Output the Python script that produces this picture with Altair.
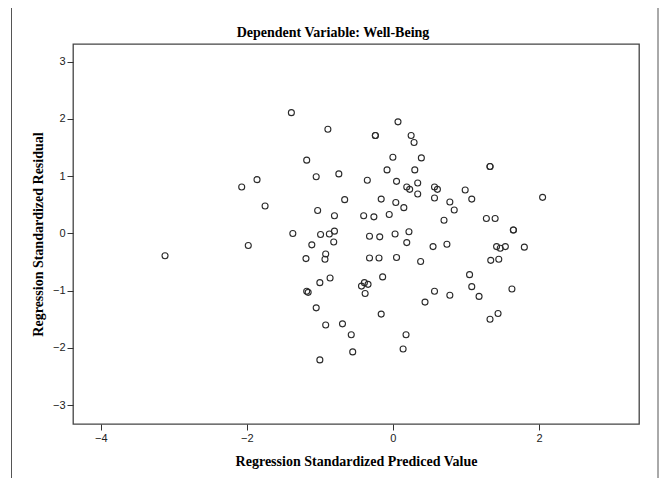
import altair as alt
import pandas as pd

# Regression standardized predicted value (x) and residual (y)
pred = [-3.12, -2.07, -1.98, -1.86, -1.75, -1.39, -1.37, -1.19, -1.18, -1.18,
        -1.16, -1.11, -1.05, -1.05, -1.03, -1.00, -1.00, -0.99, -0.93, -0.92,
        -0.92, -0.89, -0.87, -0.86, -0.81, -0.80, -0.80, -0.74, -0.69, -0.66,
        -0.57, -0.55, -0.43, -0.40, -0.39, -0.38, -0.35, -0.34, -0.32, -0.32,
        -0.26, -0.24, -0.24, -0.19, -0.18, -0.16, -0.16, -0.14, -0.08, -0.05,
        0.00, 0.03, 0.04, 0.05, 0.05, 0.07, 0.14, 0.15, 0.18, 0.19,
        0.19, 0.22, 0.23, 0.25, 0.29, 0.30, 0.34, 0.34, 0.38, 0.39,
        0.44, 0.55, 0.57, 0.57, 0.57, 0.61, 0.70, 0.74, 0.78, 0.78,
        0.84, 0.99, 1.05, 1.08, 1.08, 1.18, 1.28, 1.33, 1.33, 1.33,
        1.34, 1.40, 1.42, 1.44, 1.45, 1.47, 1.54, 1.63, 1.65, 1.65,
        1.80, 2.05]
resid = [-0.39, 0.81, -0.21, 0.94, 0.48, 2.11, 0.00, -0.44, 1.28, -1.01,
         -1.03, -0.20, 0.99, -1.30, 0.40, -0.86, -2.21, -0.02, -0.45, -0.36,
         -1.60, 1.82, -0.01, -0.78, -0.15, 0.04, 0.31, 1.04, -1.58, 0.59,
         -1.77, -2.07, -0.92, 0.31, -0.86, -1.05, 0.93, -0.89, -0.05, -0.43,
         0.29, 1.71, 1.71, -0.43, -0.06, 0.60, -1.41, -0.76, 1.11, 0.33,
         1.33, -0.01, 0.54, 0.91, -0.42, 1.95, -2.02, 0.45, -1.77, 0.81,
         -0.16, 0.03, 0.77, 1.71, 1.59, 1.11, 0.88, 0.69, -0.49, 1.32,
         -1.20, -0.23, 0.81, 0.62, -1.01, 0.77, 0.23, -0.19, 0.55, -1.08,
         0.41, 0.76, -0.72, 0.60, -0.93, -1.10, 0.26, 1.17, 1.17, -1.50,
         -0.47, 0.26, -0.23, -1.40, -0.45, -0.26, -0.23, -0.97, 0.06, 0.06,
         -0.24, 0.63]

x_ticks = [-4, -2, 0, 2]
y_ticks = [-3, -2, -1, 0, 1, 2, 3]

title_text = "Dependent Variable: Well-Being"
x_title = "Regression Standardized Prediced Value"
y_title = "Regression Standardized Residual"

df = pd.DataFrame({"pred": pred, "resid": resid})

serif = "Liberation Serif"
sans = "Liberation Sans"

border = alt.Chart(pd.DataFrame({"k": [0]})).mark_rect(
    fill="transparent", stroke="#555555", strokeWidth=1, clip=False
).encode(
    x=alt.value(-61.5), x2=alt.value(585), y=alt.value(-36.5), y2=alt.value(500)
)

title = alt.Chart(pd.DataFrame({"t": [title_text]})).mark_text(
    font=serif, fontSize=14, fontWeight="bold", color="#000000",
    align="center", baseline="alphabetic", clip=False
).encode(
    text="t:N", x=alt.value(260), y=alt.value(-7)
)

points = alt.Chart(df).mark_point(
    shape="circle", filled=False, size=36, strokeWidth=1.1,
    color="#2a2a2a", opacity=1
).encode(
    x=alt.X("pred:Q",
            scale=alt.Scale(domain=[-4.38, 3.37], nice=False, zero=False),
            axis=alt.Axis(values=x_ticks, format="d", title=x_title,
                          titlePadding=11)),
    y=alt.Y("resid:Q",
            scale=alt.Scale(domain=[-3.33, 3.31], nice=False, zero=False),
            axis=alt.Axis(values=y_ticks, format="d", title=y_title,
                          titlePadding=7)),
)

chart = alt.layer(border, title, points).properties(
    width=566, height=380,
    autosize=alt.AutoSizeParams(type="none"),
    padding={"left": 65, "top": 36, "right": 22, "bottom": 54},
).configure_view(
    stroke="#444444", strokeWidth=1.3
).configure_axis(
    domain=False, grid=False,
    ticks=True, tickSize=6, tickColor="#333333", tickWidth=1,
    labelFont=sans, labelFontSize=11, labelColor="#222222", labelPadding=2,
    titleFont=serif, titleFontSize=14, titleFontWeight="bold",
    titleColor="#000000",
)

chart.save("out.html", embed_options={"renderer": "svg", "actions": False})
